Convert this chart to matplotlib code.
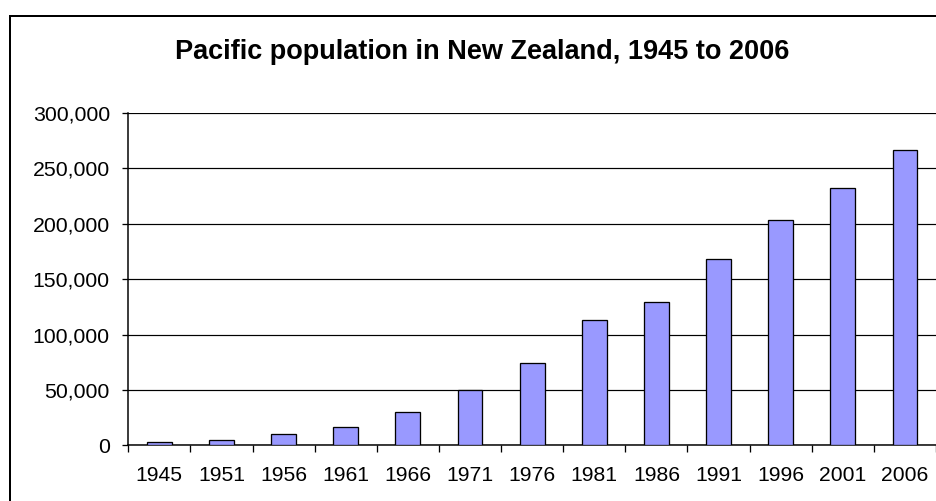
import matplotlib
matplotlib.use("Agg")
import matplotlib.pyplot as plt
from matplotlib.patches import Rectangle
from matplotlib.ticker import FuncFormatter, FixedLocator

# data
years = ["1945", "1951", "1956", "1961", "1966", "1971", "1976",
         "1981", "1986", "1991", "1996", "2001", "2006"]
population = [3300, 4500, 10200, 16800, 30300, 50000, 74500,
              113400, 129700, 168000, 203000, 232700, 266500]
y_ticks = [0, 50000, 100000, 150000, 200000, 250000, 300000]

plt.rcParams["font.family"] = ["Liberation Sans", "DejaVu Sans"]

W, H = 937, 501
fig = plt.figure(figsize=(W / 100, H / 100), dpi=100)
px = 0.72  # one pixel in points at dpi 100

# chart frame (cut off on the right and bottom, like the reference)
fig.patches.append(Rectangle((10 / W, -0.1), 1.2, (H - 16) / H + 0.1,
                             transform=fig.transFigure, fill=False,
                             edgecolor="black", linewidth=2 * px))

ax = fig.add_axes([128.3 / W, (H - 445.3) / H, (936 - 128.3) / W, (445.3 - 113) / H])

x = list(range(len(years)))
ax.bar(x, population, width=0.4, color="#9999FF", edgecolor="black",
       linewidth=1.3 * px, zorder=3)

ax.set_xlim(-0.5, len(years) - 0.5)
ax.set_ylim(0, 300000)

ax.yaxis.set_major_locator(FixedLocator(y_ticks))
ax.yaxis.set_major_formatter(FuncFormatter(lambda v, p: f"{int(v):,}"))
ax.grid(axis="y", color="black", linewidth=1.2 * px, zorder=0)

ax.set_xticks(x)
ax.set_xticklabels(years)
ax.set_xticks([i - 0.5 for i in range(len(years) + 1)], minor=True)
ax.tick_params(axis="x", which="major", length=0, pad=21 * px, labelsize=15.2)
ax.tick_params(axis="x", which="minor", length=6.5 * px, width=1.3 * px,
               direction="out")
ax.tick_params(axis="y", length=6.5 * px, width=1.3 * px, direction="out",
               pad=12 * px, labelsize=15.3)

for side in ["top", "right"]:
    ax.spines[side].set_visible(False)
for side in ["left", "bottom"]:
    ax.spines[side].set_linewidth(1.5 * px)

fig.text(482 / W, 1 - 52 / H, "Pacific population in New Zealand, 1945 to 2006",
         ha="center", va="center", fontsize=19.5, fontweight="bold")

fig.savefig("out.png", dpi=100)
